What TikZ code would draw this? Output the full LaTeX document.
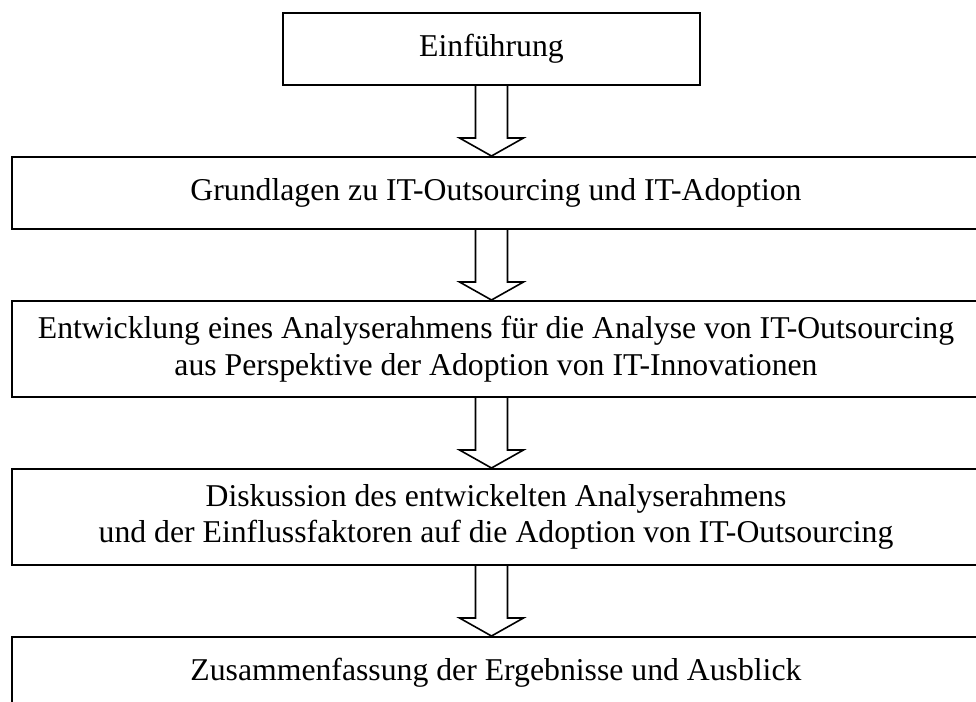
\documentclass[tikz,border=0pt]{standalone}
\usepackage{fontspec}
\setmainfont{Liberation Serif}
\usepackage{tikz}
\usetikzlibrary{calc}
\tikzset{
  box/.style={draw=black,fill=white,line width=1.5pt,align=center,inner sep=0pt,font=\fontsize{23.8}{27.5}\selectfont},
  boxs/.style={box,minimum height=54pt},
  boxw/.style={box,minimum width=726pt},
  blk/.style={draw=black,line width=1.2pt,line join=miter},
}

\begin{document}
\begin{tikzpicture}[x=0.75pt,y=-0.75pt]
\useasboundingbox (0,0) rectangle (976,702);
\clip (0,0) rectangle (976,702);
\node[boxs,minimum width=312.75pt] (b1) at (491.5,49) {Einführung};
\node[boxs,boxw] (b2) at (496,193) {Grundlagen zu IT-Outsourcing und IT-Adoption};
\node[boxw,minimum height=72pt] (b3) at (496,349) {Entwicklung eines Analyserahmens für die Analyse von IT-Outsourcing\\ aus Perspektive der Adoption von IT-Innovationen};
\node[boxw,minimum height=72pt] (b4) at (496,517) {Diskussion des entwickelten Analyserahmens\\ und der Einflussfaktoren auf die Adoption von IT-Outsourcing};
\node[boxs,boxw] (b5) at (496,673) {Zusammenfassung der Ergebnisse und Ausblick};
% hollow block arrows between the boxes
\foreach \a/\b in {b1/b2,b2/b3,b3/b4,b4/b5}{
  \coordinate (s) at (\a.south -| b1.south);
  \coordinate (t) at (\b.north -| b1.south);
  \draw[blk] ($(s)+(-16,0)$) -- ($(t)+(-16,-18)$) -- ($(t)+(-32,-18)$) -- (t)
    -- ($(t)+(32,-18)$) -- ($(t)+(16,-18)$) -- ($(s)+(16,0)$);
}
\end{tikzpicture}
\end{document}
